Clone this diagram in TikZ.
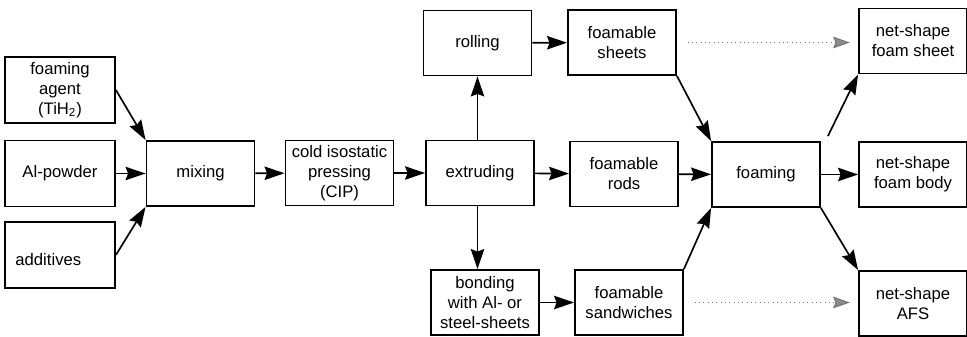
\documentclass[tikz,border=0pt]{standalone}
\usepackage{fontspec}
\setmainfont{Liberation Sans}
\usetikzlibrary{positioning,arrows.meta}

\begin{document}
\begin{tikzpicture}[
  x=0.6pt, y=-0.6pt,
  font=\fontsize{10}{12}\selectfont,
  line/.style={-{Stealth[length=12pt, width=8pt, inset=1.5pt]}, line width=1pt, draw=black},
  dotline/.style={-{Stealth[length=10pt, width=7pt, inset=1.5pt, fill=black!45]}, draw=black!55, line width=0.6pt, dotted, shorten <=6.5pt, shorten >=5pt},
  box/.style={draw=black, fill=white, line width=1.1pt, minimum width=64.8pt, minimum height=39pt, inner sep=1pt, align=center},
  wide/.style={box, minimum width=66pt, minimum height=39.6pt}
]
\useasboundingbox (0,0) rectangle (967,336);

% Raw materials
\node[wide] (agent) at (60,90) {foaming\\agent\\(TiH\textsubscript{2})};
\node[wide] (powder) at (60,173.5) {Al-powder};
\node[wide] (add) at (60,255) {\raisebox{-6.5pt}[0pt][0pt]{\hspace*{-14pt}additives}};

% Main line
\node[box] (mix) at (200.5,173.5) {mixing};
\node[box] (cip) at (339.5,173) {cold isostatic\\pressing\\(CIP)};
\node[box] (ext) at (480,173) {extruding};
\node[box] (roll) at (477.5,43) {rolling};
\node[box] (bond) at (485,302.5) {bonding\\with Al- or\\steel-sheets};

% Foamable precursors
\node[box] (sheets) at (622,42.5) {foamable\\sheets};
\node[box] (rods) at (624,174) {foamable\\rods};
\node[box] (sand) at (629,302.5) {foamable\\sandwiches};
\node[box] (foam) at (766,174.5) {foaming};

% Products
\node[box] (psheet) at (913,41) {net-shape\\foam sheet};
\node[box] (pbody) at (913,174.5) {net-shape\\foam body};
\node[box] (pafs) at (913,303.5) {net-shape\\AFS};

% Arrows
\draw[line] (agent.east) -- (mix.north west);
\draw[line] (powder) -- (mix);
\draw[line] (add.east) -- (mix.south west);
\draw[line] (mix) -- (cip);
\draw[line] (cip) -- (ext);
\draw[line] (ext.north -| roll) -- (roll.south);
\draw[line] (ext.south -| roll) -- (roll |- bond.north);
\draw[line] (roll) -- (sheets);
\draw[line] (ext) -- (rods);
\draw[line] (bond) -- (sand);
\draw[line] (sheets.south east) -- (foam.north west);
\draw[line] (rods) -- (foam);
\draw[line] (sand.north east) -- (foam.south west);
\draw[line] ([shift={(7,-5)}]foam.north east) -- (psheet.south west);
\draw[line] (foam) -- (pbody);
\draw[line] (foam.south east) -- (pafs.north west);

% Direct routes
\draw[dotline] (sheets.east) -- (sheets.east -| psheet.west);
\draw[dotline] (sand.east) -- (sand.east -| pafs.west);
\end{tikzpicture}
\end{document}
